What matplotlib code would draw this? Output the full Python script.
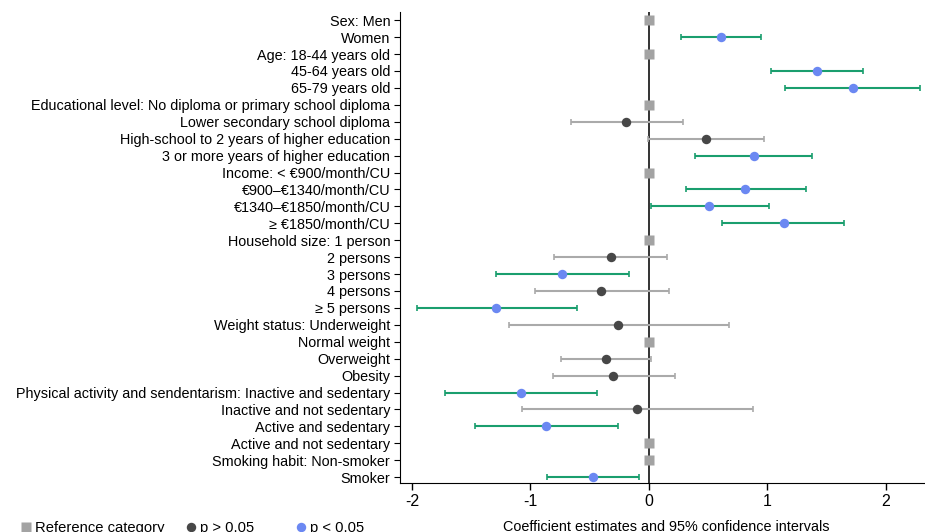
import numpy as np
import matplotlib.pyplot as plt
from matplotlib.lines import Line2D

plt.rcParams['font.family'] = ['Liberation Sans', 'DejaVu Sans']
plt.rcParams['axes.unicode_minus'] = False

labels = [
    "Sex: Men", "Women",
    "Age: 18-44 years old", "45-64 years old", "65-79 years old",
    "Educational level: No diploma or primary school diploma",
    "Lower secondary school diploma",
    "High-school to 2 years of higher education",
    "3 or more years of higher education",
    "Income: < €900/month/CU", "€900–€1340/month/CU",
    "€1340–€1850/month/CU", "≥ €1850/month/CU",
    "Household size: 1 person", "2 persons", "3 persons", "4 persons",
    "≥ 5 persons",
    "Weight status: Underweight", "Normal weight", "Overweight", "Obesity",
    "Physical activity and sendentarism: Inactive and sedentary",
    "Inactive and not sedentary", "Active and sedentary",
    "Active and not sedentary",
    "Smoking habit: Non-smoker", "Smoker",
]
# kind: 0 = reference, 1 = p > 0.05, 2 = p < 0.05
kind = [0, 2, 0, 2, 2, 0, 1, 1, 2, 0, 2, 2, 2, 0, 1, 2, 1, 2,
        1, 0, 1, 1, 2, 1, 2, 0, 0, 2]
coef = [0, 0.61, 0, 1.42, 1.72, 0, -0.19, 0.48, 0.89, 0, 0.81, 0.51, 1.14,
        0, -0.32, -0.73, -0.40, -1.29, -0.26, 0, -0.36, -0.30, -1.08, -0.10,
        -0.87, 0, 0, -0.47]
lo = [0, 0.275, 0, 1.03, 1.15, 0, -0.66, -0.01, 0.39, 0, 0.31, 0.02, 0.62,
      0, -0.80, -1.29, -0.96, -1.96, -1.18, 0, -0.74, -0.81, -1.72, -1.07,
      -1.47, 0, 0, -0.86]
hi = [0, 0.95, 0, 1.81, 2.29, 0, 0.29, 0.97, 1.38, 0, 1.33, 1.01, 1.65,
      0, 0.15, -0.17, 0.17, -0.61, 0.68, 0, 0.02, 0.22, -0.44, 0.88,
      -0.26, 0, 0, -0.08]

c_ref = '#a3a3a3'
c_ns = '#474747'
c_sig = '#6b88f2'
c_ci_ns = '#aaaaaa'
c_ci_sig = '#1a9e6e'

fig = plt.figure(figsize=(9.25, 5.32), dpi=100)
ax = fig.add_axes([0.4324, 0.092, 0.5676, 0.885])

coef = np.array(coef)
lo = np.array(lo)
hi = np.array(hi)
kind = np.array(kind)
y = np.arange(len(labels))

ax.axvline(0, color='#333333', lw=1.4, zorder=1)

for k, ci_col, pt_col in [(1, c_ci_ns, c_ns), (2, c_ci_sig, c_sig)]:
    m = kind == k
    ax.errorbar(coef[m], y[m], xerr=[coef[m] - lo[m], hi[m] - coef[m]],
                fmt='none', ecolor=ci_col, elinewidth=1.5, capsize=2.5,
                capthick=1.2, zorder=2)
    ax.plot(coef[m], y[m], 'o', color=pt_col, ms=6.8, mec='none', zorder=3)

m = kind == 0
ax.plot(coef[m], y[m], 's', color=c_ref, ms=6.8, mec='none', zorder=3)

ax.set_yticks(y)
ax.set_yticklabels(labels, fontsize=10.4)
ax.set_ylim(27.35, -0.47)
ax.set_xlim(-2.1, 2.33)
ax.set_xticks([-2, -1, 0, 1, 2])
ax.tick_params(axis='x', labelsize=11.5, length=5, width=1, pad=3)
ax.tick_params(axis='y', length=4.5, width=0.8, pad=2.5)
ax.spines['top'].set_visible(False)
ax.spines['right'].set_visible(False)
ax.set_xlabel("Coefficient estimates and 95% confidence intervals",
              fontsize=10.4)
ax.xaxis.set_label_coords(0.507, -0.079)

# legend entries placed one by one to match spacing
entries = [('s', c_ref, "Reference category", 0.019),
           ('o', c_ns, "p > 0.05", 0.197),
           ('o', c_sig, "p < 0.05", 0.316)]
for mk, col, txt, x0 in entries:
    h = Line2D([], [], marker=mk, color=col, ls='none', ms=6.8, mec='none')
    fig.legend([h], [txt], loc='center left', bbox_to_anchor=(x0, 0.008),
               frameon=False, fontsize=10.6, handletextpad=0.0,
               handlelength=1.2, borderaxespad=0, borderpad=0)

fig.savefig('out.png', dpi=100)
